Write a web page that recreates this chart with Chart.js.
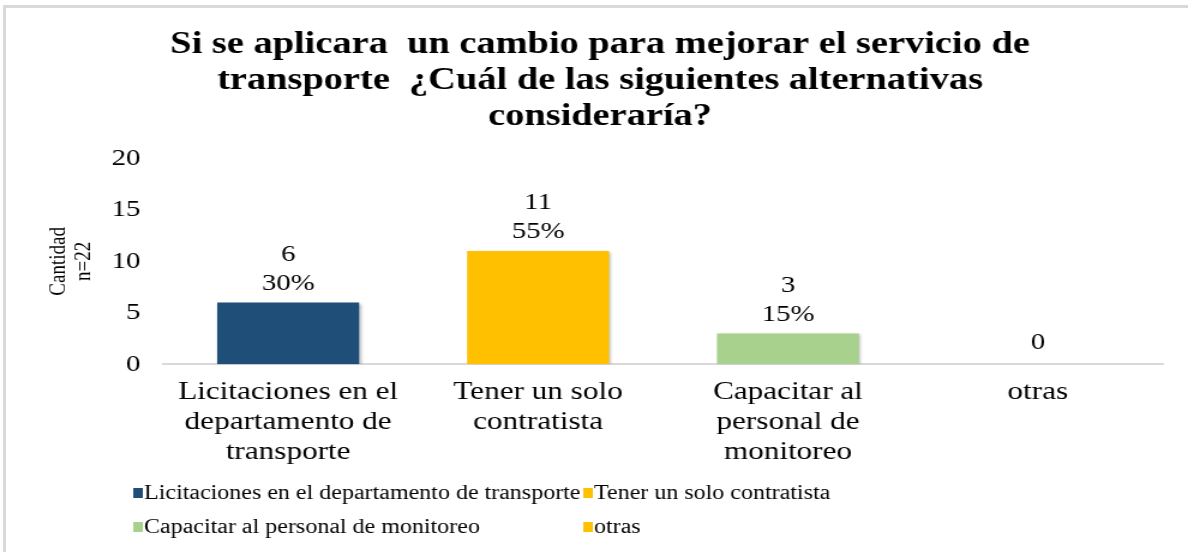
<!DOCTYPE html>
<html>
<head>
<meta charset="utf-8">
<script src="https://cdn.jsdelivr.net/npm/chart.js@4/dist/chart.umd.min.js"></script>
<style>
  html, body { margin: 0; padding: 0; background: #fff; overflow: hidden; }
  #wrap { position: absolute; left: 0; top: 0; width: 1188px; height: 552px; }
  /* the reference text is drawn wide, so the canvas is stretched sideways */
  #chart { position: absolute; left: 0; top: 0; transform: scaleX(1.2); transform-origin: 0 0; }
  #frame { position: absolute; left: 3px; top: 5px; right: -10px; bottom: -10px;
           border-top: 3px solid #d9d9d9; border-left: 3px solid #d9d9d9; pointer-events: none; }
</style>
</head>
<body>
<div id="wrap">
  <canvas id="chart" width="990" height="552"></canvas>
  <div id="frame"></div>
</div>
<script>
const categories = [
  ['Licitaciones en el', 'departamento de', 'transporte'],
  ['Tener un solo', 'contratista'],
  ['Capacitar al', 'personal de', 'monitoreo'],
  'otras'
]
const legendNames = [
  'Licitaciones en el departamento de transporte',
  'Tener un solo contratista',
  'Capacitar al personal de monitoreo',
  'otras'
]
const counts = [6, 11, 3, 0]
const percents = ['30%', '55%', '15%', '']
const barColors = ['#1F4E79', '#FFC000', '#A9D18E', '#FFC000']
const yTicks = [0, 5, 10, 15, 20]

const serif = '"Liberation Serif", "Times New Roman", serif'

// value + percentage above each bar
const barLabels = {
  id: 'barLabels',
  afterDatasetsDraw(chart) {
    const ctx = chart.ctx
    const meta = chart.getDatasetMeta(0)
    ctx.save()
    ctx.font = '24px ' + serif
    ctx.fillStyle = '#000'
    ctx.textAlign = 'center'
    ctx.textBaseline = 'middle'
    meta.data.forEach((bar, i) => {
      if (percents[i]) {
        ctx.fillText(String(counts[i]), bar.x, bar.y - 48)
        ctx.fillText(percents[i], bar.x, bar.y - 19)
      } else {
        ctx.fillText(String(counts[i]), bar.x, bar.y - 22)
      }
    })
    ctx.restore()
  }
}

// soft shadow under bars
const barShadow = {
  id: 'barShadow',
  beforeDatasetsDraw(chart) {
    const ctx = chart.ctx
    ctx.save()
    ctx.shadowColor = 'rgba(0,0,0,0.3)'
    ctx.shadowBlur = 3
    ctx.shadowOffsetX = 1.5
    ctx.shadowOffsetY = 1
  },
  afterDatasetsDraw(chart) {
    chart.ctx.restore()
  }
}

// two-column legend at the bottom
const gridLegend = {
  id: 'gridLegend',
  afterDraw(chart) {
    const ctx = chart.ctx
    const cols = [111, 486]
    const rows = [493, 527]
    ctx.save()
    ctx.font = '20px ' + serif
    ctx.textBaseline = 'middle'
    ctx.textAlign = 'left'
    legendNames.forEach((name, i) => {
      const x = cols[i % 2]
      const y = rows[Math.floor(i / 2)]
      ctx.fillStyle = barColors[i]
      ctx.fillRect(x, y - 5, 8, 10)
      ctx.fillStyle = '#000'
      ctx.fillText(name, x + 9, y + 1)
    })
    ctx.restore()
  }
}

new Chart(document.getElementById('chart'), {
  type: 'bar',
  data: {
    labels: categories,
    datasets: [{
      data: counts,
      backgroundColor: barColors,
      borderWidth: 0,
      categoryPercentage: 1,
      barPercentage: 0.568
    }]
  },
  plugins: [barShadow, barLabels, gridLegend],
  options: {
    responsive: false,
    animation: false,
    layout: { padding: { left: 31, right: 21, top: 0, bottom: 80 } },
    plugins: {
      legend: { display: false },
      tooltip: { enabled: false },
      title: {
        display: true,
        text: [
          'Si se aplicara  un cambio para mejorar el servicio de',
          'transporte  ¿Cuál de las siguientes alternativas',
          'consideraría?'
        ],
        color: '#000',
        font: { family: serif, size: 32, weight: 'bold', lineHeight: 1.14 },
        padding: { top: 26, bottom: 23 }
      }
    },
    scales: {
      x: {
        grid: { display: false },
        border: { display: true, color: '#d9d9d9', width: 2 },
        ticks: {
          color: '#000',
          font: { family: serif, size: 26, lineHeight: 1.15 },
          padding: 5,
          maxRotation: 0,
          autoSkip: false
        }
      },
      y: {
        min: 0,
        max: 20,
        afterBuildTicks(axis) { axis.ticks = yTicks.map(v => ({ value: v })) },
        afterFit(axis) { axis.width = 105 },
        grid: { display: false },
        border: { display: false },
        ticks: {
          color: '#000',
          font: { family: serif, size: 24 },
          padding: 11
        },
        title: {
          display: true,
          text: ['Cantidad', 'n=22'],
          color: '#000',
          font: { family: serif, size: 19, lineHeight: 1.1 },
          padding: { top: 8, bottom: 0 }
        }
      }
    }
  }
})
</script>
</body>
</html>
